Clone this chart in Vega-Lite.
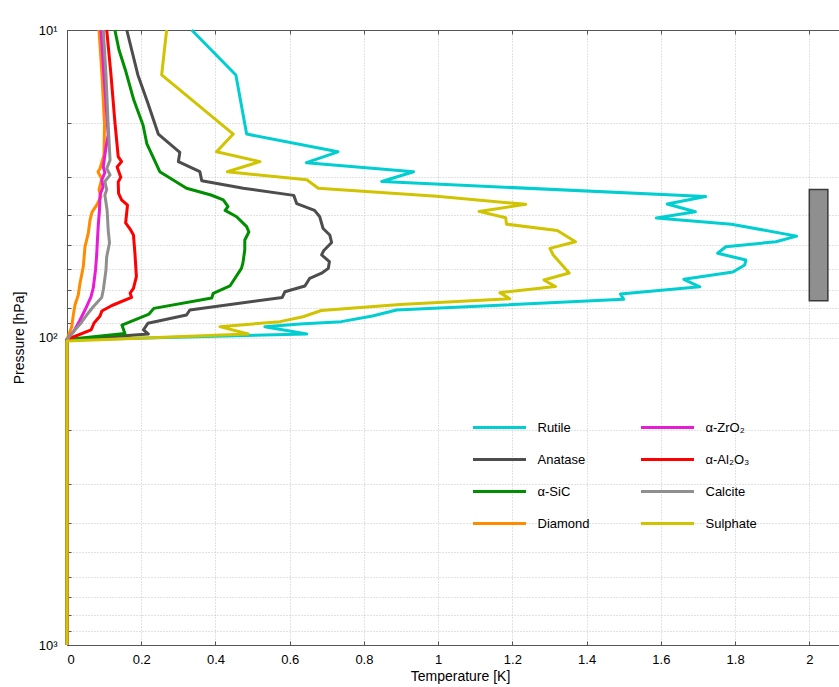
{
  "$schema": "https://vega.github.io/schema/vega-lite/v6.json",
  "width": 772,
  "height": 615,
  "autosize": {"type": "none"},
  "padding": {"left": 67, "top": 30, "right": 0, "bottom": 42},
  "background": "white",
  "config": {
    "view": {"stroke": null},
    "font": "Liberation Sans",
    "axis": {
      "labelFont": "Liberation Sans",
      "titleFont": "Liberation Sans",
      "labelFontSize": 13,
      "titleFontSize": 14,
      "titleFontWeight": "normal",
      "labelColor": "#000",
      "titleColor": "#000",
      "domainColor": "#555",
      "tickColor": "#555",
      "gridColor": "#c4c4c4",
      "gridDash": [1, 2],
      "gridWidth": 1
    }
  },
  "datasets": {
    "curves": [
      {"s": "Rutile", "T": 0.336, "p": 10},
      {"s": "Rutile", "T": 0.455, "p": 14.0},
      {"s": "Rutile", "T": 0.484, "p": 21.8},
      {"s": "Rutile", "T": 0.730, "p": 24.9},
      {"s": "Rutile", "T": 0.645, "p": 27.0},
      {"s": "Rutile", "T": 0.934, "p": 28.9},
      {"s": "Rutile", "T": 0.848, "p": 31.1},
      {"s": "Rutile", "T": 1.721, "p": 34.8},
      {"s": "Rutile", "T": 1.617, "p": 36.8},
      {"s": "Rutile", "T": 1.693, "p": 39.0},
      {"s": "Rutile", "T": 1.588, "p": 40.9},
      {"s": "Rutile", "T": 1.790, "p": 42.8},
      {"s": "Rutile", "T": 1.966, "p": 46.8},
      {"s": "Rutile", "T": 1.910, "p": 48.8},
      {"s": "Rutile", "T": 1.775, "p": 50.7},
      {"s": "Rutile", "T": 1.753, "p": 53.2},
      {"s": "Rutile", "T": 1.829, "p": 56.0},
      {"s": "Rutile", "T": 1.826, "p": 58.1},
      {"s": "Rutile", "T": 1.794, "p": 61.2},
      {"s": "Rutile", "T": 1.662, "p": 64.7},
      {"s": "Rutile", "T": 1.705, "p": 68.4},
      {"s": "Rutile", "T": 1.491, "p": 72.2},
      {"s": "Rutile", "T": 1.500, "p": 75.1},
      {"s": "Rutile", "T": 0.888, "p": 81.4},
      {"s": "Rutile", "T": 0.823, "p": 85.1},
      {"s": "Rutile", "T": 0.739, "p": 88.8},
      {"s": "Rutile", "T": 0.628, "p": 90.4},
      {"s": "Rutile", "T": 0.533, "p": 92.2},
      {"s": "Rutile", "T": 0.646, "p": 97.4},
      {"s": "Rutile", "T": 0, "p": 101.9},
      {"s": "Rutile", "T": 0, "p": 1000},

      {"s": "Anatase", "T": 0.161, "p": 10},
      {"s": "Anatase", "T": 0.191, "p": 14.0},
      {"s": "Anatase", "T": 0.218, "p": 17.3},
      {"s": "Anatase", "T": 0.246, "p": 21.8},
      {"s": "Anatase", "T": 0.304, "p": 25.0},
      {"s": "Anatase", "T": 0.300, "p": 26.8},
      {"s": "Anatase", "T": 0.358, "p": 28.9},
      {"s": "Anatase", "T": 0.363, "p": 30.9},
      {"s": "Anatase", "T": 0.475, "p": 32.7},
      {"s": "Anatase", "T": 0.611, "p": 34.5},
      {"s": "Anatase", "T": 0.619, "p": 36.7},
      {"s": "Anatase", "T": 0.667, "p": 38.6},
      {"s": "Anatase", "T": 0.681, "p": 40.5},
      {"s": "Anatase", "T": 0.690, "p": 44.2},
      {"s": "Anatase", "T": 0.708, "p": 46.4},
      {"s": "Anatase", "T": 0.713, "p": 49.1},
      {"s": "Anatase", "T": 0.692, "p": 52.1},
      {"s": "Anatase", "T": 0.686, "p": 53.9},
      {"s": "Anatase", "T": 0.707, "p": 56.7},
      {"s": "Anatase", "T": 0.704, "p": 59.6},
      {"s": "Anatase", "T": 0.686, "p": 61.8},
      {"s": "Anatase", "T": 0.654, "p": 64.2},
      {"s": "Anatase", "T": 0.641, "p": 68.0},
      {"s": "Anatase", "T": 0.587, "p": 71.0},
      {"s": "Anatase", "T": 0.580, "p": 74.1},
      {"s": "Anatase", "T": 0.331, "p": 81.4},
      {"s": "Anatase", "T": 0.322, "p": 84.5},
      {"s": "Anatase", "T": 0.218, "p": 89.9},
      {"s": "Anatase", "T": 0.206, "p": 94.5},
      {"s": "Anatase", "T": 0.219, "p": 97.4},
      {"s": "Anatase", "T": 0, "p": 101.9},
      {"s": "Anatase", "T": 0, "p": 1000},

      {"s": "α-SiC", "T": 0.129, "p": 10},
      {"s": "α-SiC", "T": 0.140, "p": 11.6},
      {"s": "α-SiC", "T": 0.159, "p": 13.7},
      {"s": "α-SiC", "T": 0.180, "p": 16.9},
      {"s": "α-SiC", "T": 0.205, "p": 20.4},
      {"s": "α-SiC", "T": 0.215, "p": 23.4},
      {"s": "α-SiC", "T": 0.250, "p": 28.9},
      {"s": "α-SiC", "T": 0.322, "p": 32.7},
      {"s": "α-SiC", "T": 0.388, "p": 34.4},
      {"s": "α-SiC", "T": 0.421, "p": 35.7},
      {"s": "α-SiC", "T": 0.434, "p": 37.5},
      {"s": "α-SiC", "T": 0.426, "p": 38.6},
      {"s": "α-SiC", "T": 0.457, "p": 40.5},
      {"s": "α-SiC", "T": 0.484, "p": 43.6},
      {"s": "α-SiC", "T": 0.490, "p": 45.4},
      {"s": "α-SiC", "T": 0.479, "p": 48.2},
      {"s": "α-SiC", "T": 0.479, "p": 51.9},
      {"s": "α-SiC", "T": 0.474, "p": 57.2},
      {"s": "α-SiC", "T": 0.470, "p": 59.6},
      {"s": "α-SiC", "T": 0.439, "p": 68.0},
      {"s": "α-SiC", "T": 0.394, "p": 71.8},
      {"s": "α-SiC", "T": 0.390, "p": 74.4},
      {"s": "α-SiC", "T": 0.234, "p": 80.4},
      {"s": "α-SiC", "T": 0.221, "p": 83.9},
      {"s": "α-SiC", "T": 0.148, "p": 91.1},
      {"s": "α-SiC", "T": 0.156, "p": 97.1},
      {"s": "α-SiC", "T": 0, "p": 101.5},
      {"s": "α-SiC", "T": 0, "p": 1000},

      {"s": "Diamond", "T": 0.0862, "p": 10},
      {"s": "Diamond", "T": 0.0943, "p": 14.0},
      {"s": "Diamond", "T": 0.101, "p": 20.4},
      {"s": "Diamond", "T": 0.0997, "p": 25.5},
      {"s": "Diamond", "T": 0.0889, "p": 28.2},
      {"s": "Diamond", "T": 0.0835, "p": 28.9},
      {"s": "Diamond", "T": 0.0935, "p": 30.5},
      {"s": "Diamond", "T": 0.0862, "p": 33.1},
      {"s": "Diamond", "T": 0.0916, "p": 34.8},
      {"s": "Diamond", "T": 0.080, "p": 37.1},
      {"s": "Diamond", "T": 0.0673, "p": 39.1},
      {"s": "Diamond", "T": 0.062, "p": 41.5},
      {"s": "Diamond", "T": 0.0574, "p": 45.8},
      {"s": "Diamond", "T": 0.0485, "p": 50.7},
      {"s": "Diamond", "T": 0.0439, "p": 58.9},
      {"s": "Diamond", "T": 0.035, "p": 66.6},
      {"s": "Diamond", "T": 0.0304, "p": 72.7},
      {"s": "Diamond", "T": 0.0215, "p": 78.4},
      {"s": "Diamond", "T": 0.017, "p": 84.5},
      {"s": "Diamond", "T": 0.0127, "p": 92.2},
      {"s": "Diamond", "T": 0, "p": 101.5},
      {"s": "Diamond", "T": 0, "p": 1000},

      {"s": "α-ZrO₂", "T": 0.0916, "p": 10},
      {"s": "α-ZrO₂", "T": 0.0997, "p": 14.0},
      {"s": "α-ZrO₂", "T": 0.108, "p": 19.6},
      {"s": "α-ZrO₂", "T": 0.111, "p": 21.9},
      {"s": "α-ZrO₂", "T": 0.106, "p": 23.7},
      {"s": "α-ZrO₂", "T": 0.102, "p": 25.5},
      {"s": "α-ZrO₂", "T": 0.0978, "p": 27.9},
      {"s": "α-ZrO₂", "T": 0.102, "p": 29.1},
      {"s": "α-ZrO₂", "T": 0.094, "p": 30.7},
      {"s": "α-ZrO₂", "T": 0.097, "p": 32.4},
      {"s": "α-ZrO₂", "T": 0.089, "p": 34.4},
      {"s": "α-ZrO₂", "T": 0.0875, "p": 38.5},
      {"s": "α-ZrO₂", "T": 0.0843, "p": 43.1},
      {"s": "α-ZrO₂", "T": 0.082, "p": 48.2},
      {"s": "α-ZrO₂", "T": 0.080, "p": 53.9},
      {"s": "α-ZrO₂", "T": 0.0768, "p": 60.3},
      {"s": "α-ZrO₂", "T": 0.0708, "p": 69.0},
      {"s": "α-ZrO₂", "T": 0.0646, "p": 73.8},
      {"s": "α-ZrO₂", "T": 0.0485, "p": 81.4},
      {"s": "α-ZrO₂", "T": 0.0337, "p": 88.4},
      {"s": "α-ZrO₂", "T": 0.0189, "p": 95.3},
      {"s": "α-ZrO₂", "T": 0, "p": 101.5},
      {"s": "α-ZrO₂", "T": 0, "p": 1000},

      {"s": "α-Al₂O₃", "T": 0.107, "p": 10},
      {"s": "α-Al₂O₃", "T": 0.1185, "p": 14.0},
      {"s": "α-Al₂O₃", "T": 0.129, "p": 19.9},
      {"s": "α-Al₂O₃", "T": 0.138, "p": 25.8},
      {"s": "α-Al₂O₃", "T": 0.147, "p": 26.8},
      {"s": "α-Al₂O₃", "T": 0.135, "p": 27.9},
      {"s": "α-Al₂O₃", "T": 0.145, "p": 30.1},
      {"s": "α-Al₂O₃", "T": 0.138, "p": 31.2},
      {"s": "α-Al₂O₃", "T": 0.139, "p": 34.0},
      {"s": "α-Al₂O₃", "T": 0.147, "p": 35.7},
      {"s": "α-Al₂O₃", "T": 0.163, "p": 37.1},
      {"s": "α-Al₂O₃", "T": 0.158, "p": 42.4},
      {"s": "α-Al₂O₃", "T": 0.170, "p": 44.4},
      {"s": "α-Al₂O₃", "T": 0.179, "p": 46.4},
      {"s": "α-Al₂O₃", "T": 0.183, "p": 53.2},
      {"s": "α-Al₂O₃", "T": 0.187, "p": 63.4},
      {"s": "α-Al₂O₃", "T": 0.179, "p": 69.2},
      {"s": "α-Al₂O₃", "T": 0.170, "p": 71.7},
      {"s": "α-Al₂O₃", "T": 0.174, "p": 74.1},
      {"s": "α-Al₂O₃", "T": 0.121, "p": 78.7},
      {"s": "α-Al₂O₃", "T": 0.094, "p": 82.0},
      {"s": "α-Al₂O₃", "T": 0.089, "p": 85.1},
      {"s": "α-Al₂O₃", "T": 0.073, "p": 89.7},
      {"s": "α-Al₂O₃", "T": 0.065, "p": 94.5},
      {"s": "α-Al₂O₃", "T": 0, "p": 101.5},
      {"s": "α-Al₂O₃", "T": 0, "p": 1000},

      {"s": "Calcite", "T": 0.0978, "p": 10},
      {"s": "Calcite", "T": 0.105, "p": 14.0},
      {"s": "Calcite", "T": 0.111, "p": 20.4},
      {"s": "Calcite", "T": 0.116, "p": 26.5},
      {"s": "Calcite", "T": 0.107, "p": 28.2},
      {"s": "Calcite", "T": 0.116, "p": 29.6},
      {"s": "Calcite", "T": 0.102, "p": 31.1},
      {"s": "Calcite", "T": 0.107, "p": 33.1},
      {"s": "Calcite", "T": 0.102, "p": 34.4},
      {"s": "Calcite", "T": 0.108, "p": 38.5},
      {"s": "Calcite", "T": 0.111, "p": 44.7},
      {"s": "Calcite", "T": 0.1145, "p": 49.3},
      {"s": "Calcite", "T": 0.107, "p": 54.6},
      {"s": "Calcite", "T": 0.105, "p": 60.3},
      {"s": "Calcite", "T": 0.0978, "p": 70.1},
      {"s": "Calcite", "T": 0.0935, "p": 74.1},
      {"s": "Calcite", "T": 0.0708, "p": 79.4},
      {"s": "Calcite", "T": 0.053, "p": 84.5},
      {"s": "Calcite", "T": 0.0377, "p": 89.7},
      {"s": "Calcite", "T": 0.0189, "p": 95.3},
      {"s": "Calcite", "T": 0, "p": 101.5},
      {"s": "Calcite", "T": 0, "p": 1000},

      {"s": "Sulphate", "T": 0.2685, "p": 10},
      {"s": "Sulphate", "T": 0.255, "p": 14.0},
      {"s": "Sulphate", "T": 0.448, "p": 21.8},
      {"s": "Sulphate", "T": 0.403, "p": 24.9},
      {"s": "Sulphate", "T": 0.520, "p": 26.8},
      {"s": "Sulphate", "T": 0.432, "p": 28.9},
      {"s": "Sulphate", "T": 0.646, "p": 30.7},
      {"s": "Sulphate", "T": 0.677, "p": 32.7},
      {"s": "Sulphate", "T": 0.996, "p": 34.7},
      {"s": "Sulphate", "T": 1.236, "p": 36.9},
      {"s": "Sulphate", "T": 1.110, "p": 38.9},
      {"s": "Sulphate", "T": 1.182, "p": 40.8},
      {"s": "Sulphate", "T": 1.184, "p": 42.8},
      {"s": "Sulphate", "T": 1.321, "p": 44.9},
      {"s": "Sulphate", "T": 1.370, "p": 48.8},
      {"s": "Sulphate", "T": 1.301, "p": 51.3},
      {"s": "Sulphate", "T": 1.310, "p": 53.9},
      {"s": "Sulphate", "T": 1.353, "p": 61.7},
      {"s": "Sulphate", "T": 1.285, "p": 65.0},
      {"s": "Sulphate", "T": 1.316, "p": 68.3},
      {"s": "Sulphate", "T": 1.166, "p": 71.5},
      {"s": "Sulphate", "T": 1.193, "p": 74.8},
      {"s": "Sulphate", "T": 0.897, "p": 78.1},
      {"s": "Sulphate", "T": 0.685, "p": 81.7},
      {"s": "Sulphate", "T": 0.636, "p": 85.6},
      {"s": "Sulphate", "T": 0.574, "p": 88.8},
      {"s": "Sulphate", "T": 0.412, "p": 92.2},
      {"s": "Sulphate", "T": 0.488, "p": 97.4},
      {"s": "Sulphate", "T": 0, "p": 102.7},
      {"s": "Sulphate", "T": 0, "p": 1000}
    ],
    "box": [
      {"T1": 2.0, "T2": 2.05, "p1": 33, "p2": 76}
    ]
  },
  "layer": [
    {
      "data": {"name": "curves"},
      "mark": {"type": "line", "strokeWidth": 3, "strokeJoin": "round"},
      "encoding": {
        "x": {
          "field": "T",
          "type": "quantitative",
          "scale": {"domain": [0, 2.08], "nice": false, "zero": false},
          "axis": {
            "orient": "bottom",
            "title": "Temperature [K]",
            "titleX": 393,
            "values": [0, 0.2, 0.4, 0.6, 0.8, 1, 1.2, 1.4, 1.6, 1.8, 2],
            "format": "~g",
            "grid": true,
            "tickSize": -4,
            "labelPadding": 12,
            "titlePadding": 3
          }
        },
        "y": {
          "field": "p",
          "type": "quantitative",
          "scale": {"type": "log", "domain": [10, 1000], "reverse": true, "nice": false},
          "axis": {
            "orient": "left",
            "title": "Pressure [hPa]",
            "values": [10, 20, 30, 40, 50, 60, 70, 80, 90, 100, 200, 300, 400, 500, 600, 700, 800, 900, 1000],
            "labelExpr": "datum.value == 10 ? '10¹' : datum.value == 100 ? '10²' : datum.value == 1000 ? '10³' : ''",
            "grid": true,
            "tickSize": -4,
            "labelPadding": 14,
            "titlePadding": 12
          }
        },
        "color": {
          "field": "s",
          "type": "nominal",
          "scale": {
            "domain": ["Rutile", "Anatase", "α-SiC", "Diamond", "α-ZrO₂", "α-Al₂O₃", "Calcite", "Sulphate"],
            "range": ["#00CED1", "#4D4D4D", "#008F00", "#FF8C00", "#E81CD6", "#FF0000", "#8F8F8F", "#D0C400"]
          },
          "legend": {
            "orient": "none",
            "legendX": 404.5,
            "legendY": 390.5,
            "title": null,
            "columns": 2,
            "columnPadding": 49,
            "rowPadding": 18,
            "clipHeight": 14,
            "symbolType": "stroke",
            "symbolSize": 2809,
            "symbolStrokeWidth": 3,
            "labelOffset": 10,
            "labelFont": "Liberation Sans",
            "labelFontSize": 13,
            "labelColor": "#000",
            "padding": 0
          }
        },
        "order": {"field": "p", "type": "quantitative"}
      }
    },
    {
      "data": {"name": "box"},
      "mark": {"type": "rect", "fill": "#8F8F8F", "stroke": "#3A3A3A", "strokeWidth": 1.5},
      "encoding": {
        "x": {
          "field": "T1",
          "type": "quantitative",
          "scale": {"domain": [0, 2.08], "nice": false, "zero": false},
          "axis": {
            "orient": "top",
            "title": null,
            "labels": false,
            "grid": false,
            "values": [0, 0.2, 0.4, 0.6, 0.8, 1, 1.2, 1.4, 1.6, 1.8, 2],
            "tickSize": -4
          }
        },
        "x2": {"field": "T2"},
        "y": {
          "field": "p1",
          "type": "quantitative",
          "scale": {"type": "log", "domain": [10, 1000], "reverse": true, "nice": false},
          "axis": null
        },
        "y2": {"field": "p2"}
      }
    }
  ],
  "resolve": {"axis": {"x": "independent", "y": "independent"}}
}
